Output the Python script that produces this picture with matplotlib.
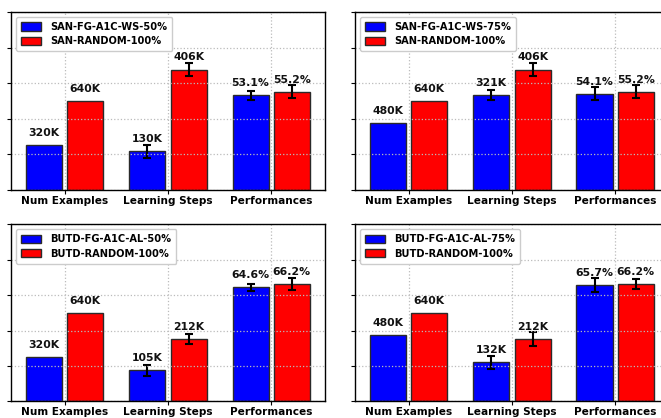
import numpy as np
import matplotlib
matplotlib.use('Agg')
import matplotlib.pyplot as plt

categories = ['Num Examples', 'Learning Steps', 'Performances']
# each group is scaled into 0..1 by its own reference value
group_scale = [1280, 600, 100]
units = ['K', 'K', '%']

blue_names = ['SAN-FG-A1C-WS-50%', 'SAN-FG-A1C-WS-75%', 'BUTD-FG-A1C-AL-50%', 'BUTD-FG-A1C-AL-75%']
red_names = ['SAN-RANDOM-100%', 'SAN-RANDOM-100%', 'BUTD-RANDOM-100%', 'BUTD-RANDOM-100%']

blue_vals = [[320, 130, 53.1], [480, 321, 54.1], [320, 105, 64.6], [480, 132, 65.7]]
red_vals = [[640, 406, 55.2], [640, 406, 55.2], [640, 212, 66.2], [640, 212, 66.2]]
blue_err = [[0, 23, 2.7], [0, 17, 3.8], [0, 18, 2.0], [0, 23, 4.0]]
red_err = [[0, 23, 3.6], [0, 23, 3.6], [0, 17, 3.4], [0, 23, 2.9]]

plt.rcParams['font.family'] = 'DejaVu Sans'
plt.rcParams['font.weight'] = 'bold'

fig = plt.figure(figsize=(6.61, 4.18), dpi=100)
positions = [[0.0166, 0.5455, 0.475, 0.4258],
             [0.537, 0.5455, 0.475, 0.4258],
             [0.0166, 0.040, 0.475, 0.4230],
             [0.537, 0.040, 0.475, 0.4230]]

x = np.arange(len(categories))
w = 0.35
scale = np.array(group_scale, dtype=float)


def fmt(v, u):
    if u == '%':
        return '%.1f%%' % v
    return '%dK' % v


for i in range(4):
    ax = fig.add_axes(positions[i])
    b = np.array(blue_vals[i]) / scale
    r = np.array(red_vals[i]) / scale
    be = np.array(blue_err[i]) / scale
    re = np.array(red_err[i]) / scale

    ax.bar(x - 0.2, b, w, color='#0000ff', edgecolor='#2a2a2a', linewidth=1.0, label=blue_names[i])
    ax.bar(x + 0.2, r, w, color='#ff0000', edgecolor='#2a2a2a', linewidth=1.0, label=red_names[i])
    ax.errorbar(x[1:] - 0.2, b[1:], yerr=be[1:], fmt='none', ecolor='black', elinewidth=1.5, capsize=3, capthick=1.5)
    ax.errorbar(x[1:] + 0.2, r[1:], yerr=re[1:], fmt='none', ecolor='black', elinewidth=1.5, capsize=3, capthick=1.5)

    for j in range(len(categories)):
        ax.text(x[j] - 0.2, b[j] + 0.04, fmt(blue_vals[i][j], units[j]), ha='center', va='bottom',
                fontsize=7.8, fontweight='bold', color='#111111')
        ax.text(x[j] + 0.2, r[j] + 0.04, fmt(red_vals[i][j], units[j]), ha='center', va='bottom',
                fontsize=7.8, fontweight='bold', color='#111111')

    ax.set_xlim(-0.52, 2.52)
    ax.set_ylim(0, 1)
    ax.set_yticks(np.arange(0, 1.01, 0.2))
    ax.set_yticklabels([])
    ax.set_xticks(x)
    ax.set_xticklabels(categories, fontsize=7.6, fontweight='bold')
    ax.tick_params(axis='both', length=3, width=0.8, pad=1)
    ax.set_axisbelow(False)
    ax.grid(True, color='#bbbbbb', linestyle=':', linewidth=0.9)
    for s in ax.spines.values():
        s.set_linewidth(1.0)
        s.set_color('black')
        s.set_zorder(4)
    ax.legend(loc='upper left', handlelength=2.0, handleheight=0.9,
              borderpad=0.5, labelspacing=0.45, handletextpad=1.0, framealpha=1,
              edgecolor='#cccccc', fancybox=True, prop={'weight': 'bold', 'size': 7.1})

plt.savefig('out.png', dpi=100)
